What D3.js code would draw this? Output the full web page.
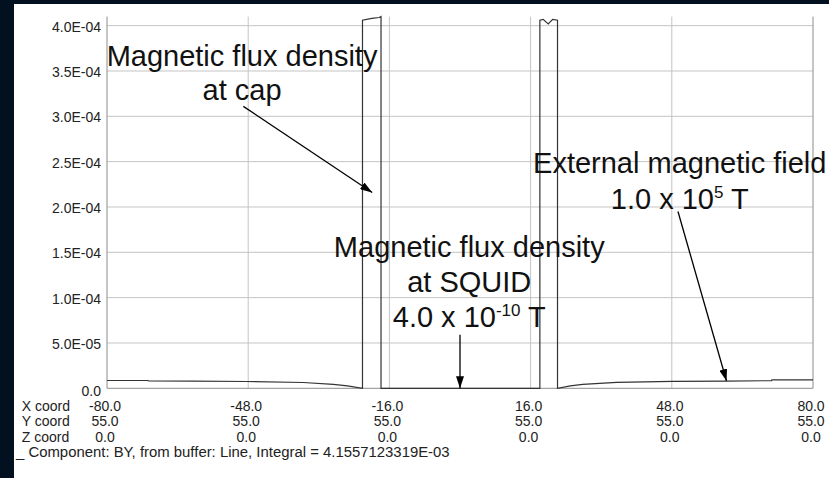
<!DOCTYPE html>
<html>
<head>
<meta charset="utf-8">
<script src="https://cdn.jsdelivr.net/npm/d3@7"></script>
<style>
  html, body { margin: 0; padding: 0; background: #03101f; }
  text { font-family: "Liberation Sans", Arial, sans-serif; }
</style>
</head>
<body>
<div id="chart"></div>
<script>
// sampled points along the line (mm) and the BY component (T)
const xCoord = [-80, -70.7, -70.6, -60.4, -48.2, -35.5, -28.7, -25.5, -22.1,
                -22.1, -20.0, -18.3, -17.9, -17.9,
                18.1, 18.1, 18.85, 20.0, 21.0, 22.1, 22.1,
                25.0, 27.8, 35.5, 48.2, 60.4, 70.6, 70.7, 80];
const fluxBY = [0.86e-5, 0.86e-5, 0.82e-5, 0.80e-5, 0.75e-5, 0.64e-5, 0.44e-5, 0.26e-5, 0,
                4.06e-4, 4.08e-4, 4.09e-4, 4.10e-4, 0,
                0, 4.06e-4, 4.07e-4, 4.02e-4, 4.07e-4, 4.06e-4, 0,
                0.26e-5, 0.44e-5, 0.66e-5, 0.77e-5, 0.80e-5, 0.84e-5, 0.92e-5, 0.92e-5];

const xTicks = [-80, -48, -16, 16, 48, 80];
const xCoordRow = ["-80.0", "-48.0", "-16.0", "16.0", "48.0", "80.0"];
const yCoordRow = ["55.0", "55.0", "55.0", "55.0", "55.0", "55.0"];
const zCoordRow = ["0.0", "0.0", "0.0", "0.0", "0.0", "0.0"];
const yTicks = [0, 0.5e-4, 1.0e-4, 1.5e-4, 2.0e-4, 2.5e-4, 3.0e-4, 3.5e-4, 4.0e-4];
const yTickLabels = ["0.0", "5.0E-05", "1.0E-04", "1.5E-04", "2.0E-04", "2.5E-04", "3.0E-04", "3.5E-04", "4.0E-04"];
const rowNames = ["X coord", "Y coord", "Z coord"];
const footer = "_ Component: BY, from buffer: Line, Integral = 4.1557123319E-03";

// annotations, anchored in data units: [x, y] of text lines and arrows
const notes = [
  { lines: [["Magnetic flux density"], ["at cap"]], x: -49.4, y: [3.55e-4, 3.18e-4],
    arrow: [[-49.1, 3.11e-4], [-19.9, 2.16e-4]] },
  { lines: [["Magnetic flux density"], ["at SQUID"], ["4.0 x 10", "-10", " T"]], x: 2.1, y: [1.452e-4, 1.066e-4, 0.68e-4],
    arrow: [[0.0, 0.59e-4], [0.0, 0]] },
  { lines: [["External magnetic field"], ["1.0 x 10", "5", " T"]], x: 49.8, y: [2.372e-4, 1.975e-4],
    arrow: [[49.4, 1.95e-4], [60.4, 0.08e-4]] }
];

const W = 829, H = 478;
const margin = { top: 16.6, right: 16, bottom: 89.7, left: 107 };
const innerW = W - margin.left - margin.right;
const innerH = H - margin.top - margin.bottom;

const svg = d3.select("#chart").append("svg")
  .attr("width", W).attr("height", H);

svg.append("rect").attr("width", W).attr("height", H).attr("fill", "#03101f");
svg.append("rect").attr("x", 14).attr("y", 4).attr("width", W - 14).attr("height", H - 4).attr("fill", "#ffffff");

const defs = svg.append("defs");
defs.append("marker")
  .attr("id", "arrowHead")
  .attr("viewBox", "0 0 12 8")
  .attr("refX", 12).attr("refY", 4)
  .attr("markerWidth", 12).attr("markerHeight", 8)
  .attr("markerUnits", "userSpaceOnUse")
  .attr("orient", "auto")
  .append("path").attr("d", "M0,0 L12,4 L0,8 Z").attr("fill", "#000");

const g = svg.append("g").attr("transform", `translate(${margin.left},${margin.top})`);

const xScale = d3.scaleLinear().domain([-80, 80]).range([0, innerW]);
const yScale = d3.scaleLinear().domain([0, 4.1e-4]).range([innerH, 0]);

// grid
g.append("g").selectAll("line.hgrid")
  .data(yTicks.slice(1))
  .join("line")
  .attr("x1", 0).attr("x2", innerW)
  .attr("y1", d => yScale(d)).attr("y2", d => yScale(d))
  .attr("stroke", "#c4c4c4").attr("stroke-width", 1);

g.append("g").selectAll("line.vgrid")
  .data(xTicks.slice(1, -1))
  .join("line")
  .attr("x1", d => xScale(d)).attr("x2", d => xScale(d))
  .attr("y1", 0).attr("y2", innerH)
  .attr("stroke", "#c4c4c4").attr("stroke-width", 1);

// frame: left, bottom, right
g.append("path")
  .attr("d", `M0,0 V${innerH} H${innerW} V0`)
  .attr("fill", "none").attr("stroke", "#8c8c8c").attr("stroke-width", 1);

// y labels
g.append("g").selectAll("text")
  .data(yTicks)
  .join("text")
  .attr("x", -6)
  .attr("y", (d, i) => yScale(d) + (i === 0 ? 8 : 6))
  .attr("text-anchor", "end")
  .attr("font-size", 14)
  .attr("fill", "#222")
  .text((d, i) => yTickLabels[i]);

// curve
const points = xCoord.map((x, i) => ({ x: x, y: fluxBY[i] }));
g.append("path")
  .datum(points)
  .attr("fill", "none")
  .attr("stroke", "#333")
  .attr("stroke-width", 1.2)
  .attr("d", d3.line().x(d => xScale(d.x)).y(d => yScale(d.y)));

// bottom coordinate table
const rowY = [innerH + 22.4, innerH + 37.7, innerH + 53.4];
const rows = [xCoordRow, yCoordRow, zCoordRow];
rows.forEach((vals, r) => {
  g.append("text")
    .attr("x", 21.7 - margin.left).attr("y", rowY[r])
    .attr("font-size", 14).attr("fill", "#222")
    .text(rowNames[r]);
  g.append("g").selectAll("text")
    .data(xTicks)
    .join("text")
    .attr("x", d => xScale(d) - 2)
    .attr("y", rowY[r])
    .attr("text-anchor", "middle")
    .attr("font-size", 14).attr("fill", "#222")
    .text((d, i) => vals[i]);
});

g.append("text")
  .attr("x", 16 - margin.left).attr("y", innerH + 68.7)
  .attr("font-size", 14.9).attr("fill", "#222")
  .text(footer);

// annotations
notes.forEach(n => {
  n.lines.forEach((parts, i) => {
    const t = g.append("text")
      .attr("x", xScale(n.x)).attr("y", yScale(n.y[i]))
      .attr("text-anchor", "middle")
      .attr("font-size", 29).attr("fill", "#111");
    t.append("tspan").text(parts[0]);
    if (parts.length > 1) {
      t.append("tspan").attr("font-size", 17).attr("dy", -11).text(parts[1]);
      t.append("tspan").attr("dy", 11).text(parts[2]);
    }
  });
  g.append("line")
    .attr("x1", xScale(n.arrow[0][0])).attr("y1", yScale(n.arrow[0][1]))
    .attr("x2", xScale(n.arrow[1][0])).attr("y2", yScale(n.arrow[1][1]))
    .attr("stroke", "#000").attr("stroke-width", 1.3)
    .attr("marker-end", "url(#arrowHead)");
});
</script>
</body>
</html>
